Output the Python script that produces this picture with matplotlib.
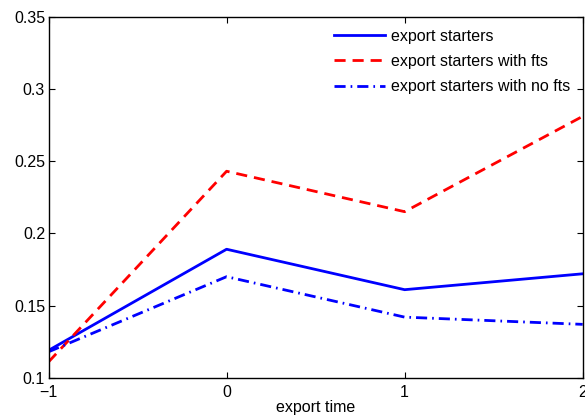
import matplotlib
matplotlib.use("Agg")
import matplotlib.pyplot as plt

plt.rcParams['font.family'] = ['Liberation Sans', 'DejaVu Sans']

x = [-1, 0, 1, 2]
starters = [0.119, 0.189, 0.161, 0.172]
starters_fts = [0.111, 0.243, 0.215, 0.281]
starters_nofts = [0.118, 0.170, 0.142, 0.137]
labels = ['export starters', 'export starters with fts', 'export starters with no fts']
xticks = [-1, 0, 1, 2]
yticks = [0.1, 0.15, 0.2, 0.25, 0.3, 0.35]
yticklabels = ['0.1', '0.15', '0.2', '0.25', '0.3', '0.35']

fig = plt.figure(figsize=(5.85, 4.17), dpi=100)
ax = fig.add_axes([0.083, 0.094, 0.913, 0.866])

lw = 2.0
ax.plot(x, starters, color='#0000ff', lw=lw, ls='-', label=labels[0])
ax.plot(x, starters_fts, color='#ff0000', lw=lw, ls=(0, (4, 2.5)), label=labels[1])
ax.plot(x, starters_nofts, color='#0000ff', lw=lw, ls=(0, (4, 1.8, 0.6, 1.8)), label=labels[2])

ax.set_xlim(-1, 2)
ax.set_ylim(0.1, 0.35)
ax.set_xticks(xticks)
ax.set_xticklabels(['\u22121', '0', '1', '2'])
ax.set_yticks(yticks)
ax.set_yticklabels(yticklabels)
ax.tick_params(direction='in', length=4, width=0.8, top=True, right=True, labelsize=11.5)
ax.tick_params(axis='x', pad=5)
ax.tick_params(axis='y', pad=2.5)
for s in ax.spines.values():
    s.set_linewidth(1.0)
ax.set_xlabel('export time', fontsize=11.5, labelpad=0)

leg = ax.legend(loc='upper right', frameon=False, fontsize=11.5, handlelength=3.2,
                handletextpad=0.4, labelspacing=0.65, borderaxespad=0.35,
                bbox_to_anchor=(1.0, 1.0))

fig.savefig('out.png', dpi=100)
